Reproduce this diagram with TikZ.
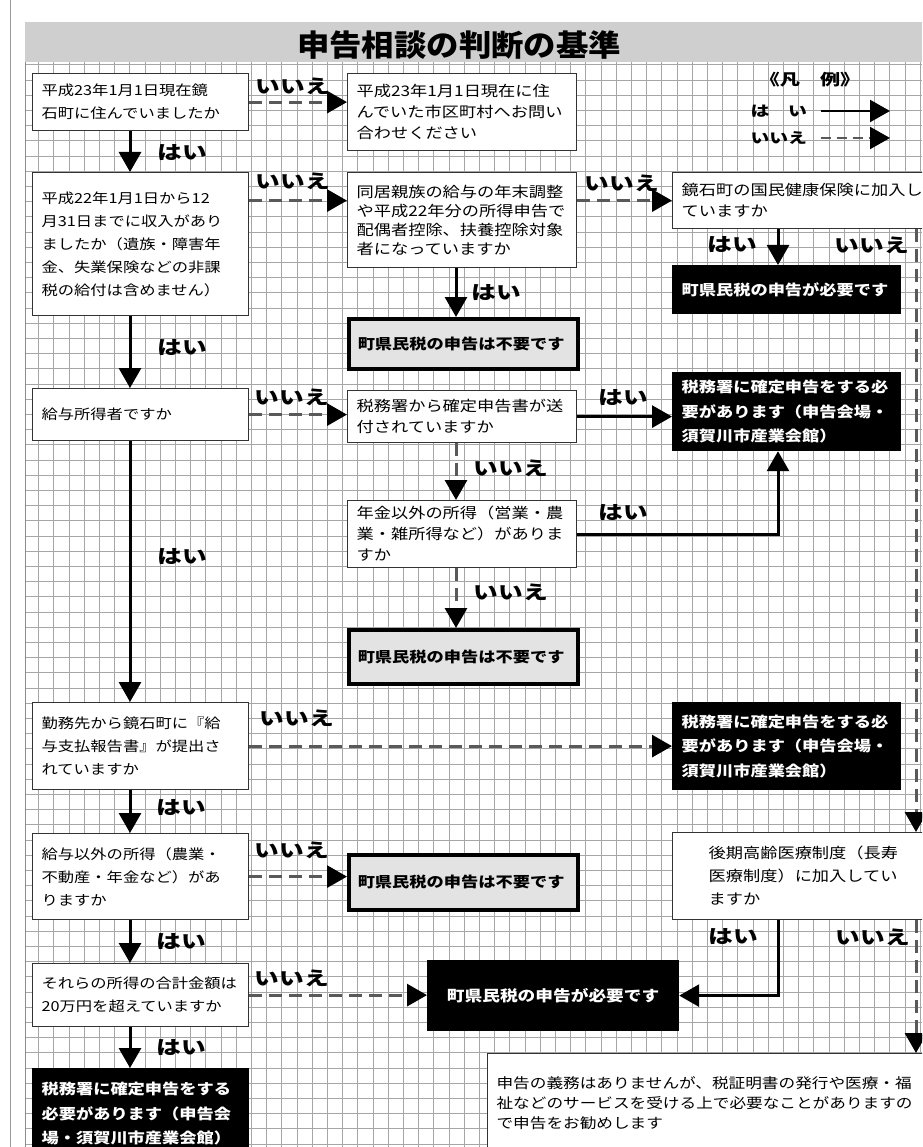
\documentclass[tikz,border=0pt]{standalone}
\usepackage{fontspec}
\setmainfont{Noto Sans CJK JP}
\newfontfamily\boxfont{Noto Sans CJK JP}[FakeStretch=1.18]
\newfontfamily\lblfont{Noto Sans CJK JP}[FakeStretch=1.3]
\newfontfamily\headfont{Noto Sans CJK JP}[FakeStretch=1.08]
\usetikzlibrary{arrows.meta}
\newcommand\qfont[2]{\boxfont\fontsize{#1}{#2}\selectfont}
\tikzset{
  gridline/.style={black!35,line width=.8pt},
  box/.style={draw=black!80,line width=1.2pt,fill=white,anchor=north west,
    align=left,inner xsep=9pt,inner ysep=2pt},
  qa/.style={box,text width=198pt,font=\qfont{13.8}{23}},
  qb/.style={box,text width=211pt,font=\qfont{14.6}{21}},
  nobox/.style={box,draw=black,line width=3.5pt,fill=black!11,text width=211pt,
    font=\qfont{14.6}{20}\bfseries},
  mustbox/.style={box,draw=black,fill=black,text=white,text width=210pt,
    font=\qfont{14.6}{24.5}\bfseries},
  ans/.style={font=\lblfont\bfseries\fontsize{19}{20}\selectfont,inner sep=0pt},
  yes/.style={line width=3pt,-{Triangle[length=20pt,width=22pt]}},
  no/.style={line width=3pt,draw=black!65,dash pattern=on 13pt off 7pt,
    -{Triangle[length=20pt,width=22pt,color=black]}},
}
\begin{document}
\begin{tikzpicture}[x=1pt,y=-1pt]
\useasboundingbox (0,0) rectangle (922,1147);
\clip (0,0) rectangle (922,1147);
% Draw frame, title bar and grid
\draw[black!40,line width=1pt] (10,0) -- (10,1147);
\foreach \i in {0,...,58}
  \draw[gridline] (38.6+15.2*\i,62) -- (38.6+15.2*\i,1147);
\foreach \j in {0,...,71}
  \draw[gridline] (25,64.8+15.2*\j) -- (922,64.8+15.2*\j);
\draw[black!45,line width=1pt] (25,22) -- (25,1147);
\fill[black!19] (25,22) rectangle (922,62);
\node[font=\headfont\bfseries\fontsize{30}{32}\selectfont] (title) at (459,45)
  {申告相談の判断の基準};
% Legend
\node[font=\lblfont\bfseries\fontsize{15.5}{17}\selectfont] (legend) at (810,80)
  {《凡　例》};
\node[font=\lblfont\bfseries\fontsize{14.5}{16}\selectfont,anchor=west] (legyes)
  at (747,111) {は　い};
\node[font=\lblfont\bfseries\fontsize{14.5}{16}\selectfont,anchor=west] (legno)
  at (747,138) {いいえ};
\coordinate (legyesend) at (890,111);
\coordinate (legnoend) at (890,138);
\draw[yes,line width=2.2pt] ([xshift=10pt]legyes.east) -- (legyesend);
\draw[no,line width=2.2pt,dash pattern=on 10pt off 6pt] ([xshift=10pt]legno.east) -- (legnoend);
% Column lines
\coordinate (colA) at (130,0);
\coordinate (colB) at (456,0);
\coordinate (colC) at (778,0);
\coordinate (colR) at (916,0);
% Question boxes
\node[qa,minimum height=57pt] (live) at (32,73)
  {平成23年1月1日現在鏡\\石町に住んでいましたか};
\node[qb,minimum height=77pt] (askcity) at (347,73)
  {平成23年1月1日現在に住\\んでいた市区町村へお問い\\合わせください};
\node[qa,minimum height=143pt] (income) at (32,172)
  {平成22年1月1日から12\\月31日までに収入があり\\ましたか（遺族・障害年\\金、失業保険などの非課\\税の給付は含めません）};
\node[qb,minimum height=95pt,font=\qfont{14.6}{19}] (dependent) at (347,172)
  {同居親族の給与の年末調整\\や平成22年分の所得申告で\\配偶者控除、扶養控除対象\\者になっていますか};
\node[qb,text width=262pt,minimum height=56pt] (kokuho) at (672,172)
  {鏡石町の国民健康保険に加入し\\ていますか};
\node[mustbox,minimum height=48pt] (kenminA) at (672,265)
  {町県民税の申告が必要です};
\node[nobox,minimum height=50pt] (notneedA) at (347,317)
  {町県民税の申告は不要です};
\node[qa,minimum height=52pt] (salary) at (32,388)
  {給与所得者ですか};
\node[qb,minimum height=52pt] (taxform) at (347,390)
  {税務署から確定申告書が送\\付されていますか};
\node[mustbox,minimum height=78pt] (taxofficeA) at (672,372)
  {税務署に確定申告をする必\\要があります（申告会場・\\須賀川市産業会館）};
\node[qb,minimum height=67pt] (pension) at (347,500)
  {年金以外の所得（営業・農\\業・雑所得など）がありま\\すか};
\node[nobox,minimum height=54pt] (notneedB) at (347,628)
  {町県民税の申告は不要です};
\node[qa,minimum height=87pt] (report) at (32,702)
  {勤務先から鏡石町に『給\\与支払報告書』が提出さ\\れていますか};
\node[mustbox,minimum height=87pt] (taxofficeB) at (672,702)
  {税務署に確定申告をする必\\要があります（申告会場・\\須賀川市産業会館）};
\node[qa,minimum height=86pt] (other) at (32,833)
  {給与以外の所得（農業・\\不動産・年金など）があ\\りますか};
\node[nobox,minimum height=55pt] (notneedC) at (347,853)
  {町県民税の申告は不要です};
\node[qb,text width=262pt,minimum height=87pt,font=\qfont{14.6}{23}] (kouki) at (672,832)
  {\hspace*{27pt}後期高齢医療制度（長寿\\\hspace*{27pt}医療制度）に加入してい\\\hspace*{27pt}ますか};
\node[qa,minimum height=63pt] (total) at (32,963)
  {それらの所得の合計金額は\\20万円を超えていますか};
\node[mustbox,text width=233pt,align=center,minimum height=70pt,
  font=\qfont{15}{20}\bfseries] (kenminB) at (427,960)
  {町県民税の申告が必要です};
\node[mustbox,text width=198pt,minimum height=90pt] (taxofficeC) at (32,1068)
  {税務署に確定申告をする\\必要があります（申告会\\場・須賀川市産業会館）};
\node[qb,text width=450pt,minimum height=100pt,font=\qfont{14.1}{20}] (note) at (487,1053)
  {申告の義務はありませんが、税証明書の発行や医療・福\\祉などのサービスを受ける上で必要なことがありますの\\で申告をお勧めします};
% Yes connectors
\draw[yes] (live.south -| colA) -- (income.north -| colA);
\draw[yes] (income.south -| colA) -- (salary.north -| colA);
\draw[yes] (salary.south -| colA) -- (report.north -| colA);
\draw[yes] (report.south -| colA) -- (other.north -| colA);
\draw[yes] (other.south -| colA) -- (total.north -| colA);
\draw[yes] (total.south -| colA) -- (taxofficeC.north -| colA);
\draw[yes] (dependent.south -| colB) -- (notneedA.north -| colB);
\draw[yes] (kokuho.south -| colC) -- (kenminA.north -| colC);
\draw[yes] (taxform.east) -- (taxform.east -| taxofficeA.west);
\draw[yes] (pension.east) -| (taxofficeA.south -| colC);
\draw[yes] (kouki.south -| colC) |- (kenminB.east);
% No connectors
\draw[no] (live.east) -- (live.east -| askcity.west);
\draw[no] (income.east |- kokuho.west) -- (dependent.west |- kokuho.west);
\draw[no] (dependent.east |- kokuho.west) -- (kokuho.west);
\draw[no] (salary.east) -- (salary.east -| taxform.west);
\draw[no] (taxform.south -| colB) -- (pension.north -| colB);
\draw[no] (pension.south -| colB) -- (notneedB.north -| colB);
\draw[no] (report.east) -- (report.east -| taxofficeB.west);
\draw[no] (other.east) -- (other.east -| notneedC.west);
\draw[no] (total.east) -- (total.east -| kenminB.west);
\draw[no] (kokuho.south -| colR) -- (kouki.north -| colR);
\draw[no] (kouki.south -| colR) -- (note.north -| colR);
% Answer labels
\node[ans] (y1) at (182,153) {はい};
\node[ans] (n1) at (293,86) {いいえ};
\node[ans] (n2) at (293,181) {いいえ};
\node[ans] (n3) at (622,183) {いいえ};
\node[ans] (y2) at (496,293) {はい};
\node[ans] (y3) at (732,245) {はい};
\node[ans] (n4) at (872,245) {いいえ};
\node[ans] (y4) at (182,348) {はい};
\node[ans] (n5) at (292,397) {いいえ};
\node[ans] (y5) at (623,398) {はい};
\node[ans] (n6) at (511,468) {いいえ};
\node[ans] (y6) at (623,513) {はい};
\node[ans] (n7) at (511,592) {いいえ};
\node[ans] (y7) at (182,557) {はい};
\node[ans] (n8) at (297,718) {いいえ};
\node[ans] (y8) at (181,808) {はい};
\node[ans] (n9) at (292,850) {いいえ};
\node[ans] (y9) at (181,942) {はい};
\node[ans] (n10) at (292,978) {いいえ};
\node[ans] (y10) at (181,1048) {はい};
\node[ans] (y11) at (733,937) {はい};
\node[ans] (n11) at (873,937) {いいえ};
\end{tikzpicture}
\end{document}
